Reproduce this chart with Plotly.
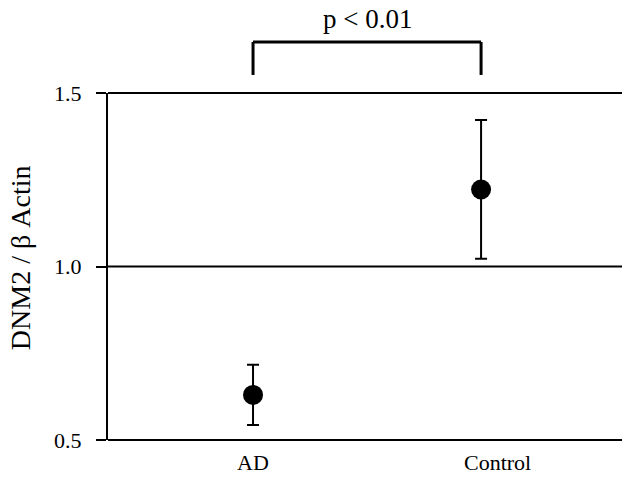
import plotly.graph_objects as go

categories = ["AD", "Control"]
means = [0.63, 1.222]
errors = [0.087, 0.2]
y_ticks = [0.5, 1.0, 1.5]
y_tick_labels = ["0.5", "1.0", "1.5"]
p_label = "p < 0.01"
y_title = "DNM2 / β Actin"

FONT = "Liberation Serif, Times New Roman, serif"
xpos = list(range(len(categories)))
label_shift = [0, 16]          # horizontal nudge (px) of category labels, as in the original
xmin, xmax = -0.636, 1.618
ymin, ymax = 0.5, 1.5

fig = go.Figure()
fig.add_trace(go.Scatter(
    x=xpos, y=means, mode="markers",
    marker=dict(size=20, color="black"),
    error_y=dict(type="data", array=errors, visible=True,
                 color="black", thickness=2, width=6),
    showlegend=False,
))

def px(v):
    return (v - xmin) / (xmax - xmin)

def py(v):
    return (v - ymin) / (ymax - ymin)

# horizontal reference lines at each y tick (paper coords so edge lines are not clipped)
for v in y_ticks:
    fig.add_shape(type="line", xref="paper", yref="paper", layer="below",
                  x0=0, x1=1, y0=py(v), y1=py(v),
                  line=dict(color="black", width=2))

# category labels
for xp, lab, sh in zip(xpos, categories, label_shift):
    fig.add_annotation(text=lab, xref="x", yref="paper", x=xp, y=-0.066,
                       xshift=sh, xanchor="center", yanchor="middle",
                       showarrow=False, font=dict(family=FONT, size=22, color="black"))

# significance bracket
x0, x1 = px(xpos[0]), px(xpos[1])
ytop, ybot = 1.147, 1.052
for (a, b, c, d) in [(x0, ybot, x0, ytop), (x0, ytop, x1, ytop), (x1, ytop, x1, ybot)]:
    fig.add_shape(type="line", xref="paper", yref="paper",
                  x0=a, y0=b, x1=c, y1=d, line=dict(color="black", width=3))
fig.add_annotation(text=p_label, xref="paper", yref="paper",
                   x=(x0 + x1) / 2, y=1.213, yanchor="middle", xanchor="center",
                   showarrow=False, font=dict(family=FONT, size=27, color="black"))
fig.add_annotation(text=y_title, xref="paper", yref="paper",
                   x=-0.169, y=0.5245, textangle=-90, showarrow=False,
                   xanchor="center", yanchor="middle",
                   font=dict(family=FONT, size=28, color="black"))

fig.update_layout(
    width=625, height=477,
    margin=dict(l=108, r=3, t=93, b=37),
    plot_bgcolor="white", paper_bgcolor="white",
    font=dict(family=FONT, color="black"),
    xaxis=dict(range=[xmin, xmax], showticklabels=False,
               showgrid=False, zeroline=False, showline=False, ticks=""),
    yaxis=dict(range=[ymin, ymax], tickvals=y_ticks, ticktext=y_tick_labels,
               showgrid=False, zeroline=False, showline=True,
               linecolor="black", linewidth=2,
               ticks="outside", ticklen=10, tickwidth=2, tickcolor="black",
               tickfont=dict(size=22), ticklabelstandoff=10),
)

post = (
    "document.documentElement.style.margin='0';"
    "document.documentElement.style.overflow='hidden';"
    "document.body.style.margin='0';"
    "document.body.style.overflow='hidden';"
    "document.body.style.lineHeight='0';"
    "document.querySelectorAll('.svg-container').forEach(function(e){e.style.display='block';});"
)
fig.write_html("out.html", config={"displayModeBar": False}, post_script=post)
